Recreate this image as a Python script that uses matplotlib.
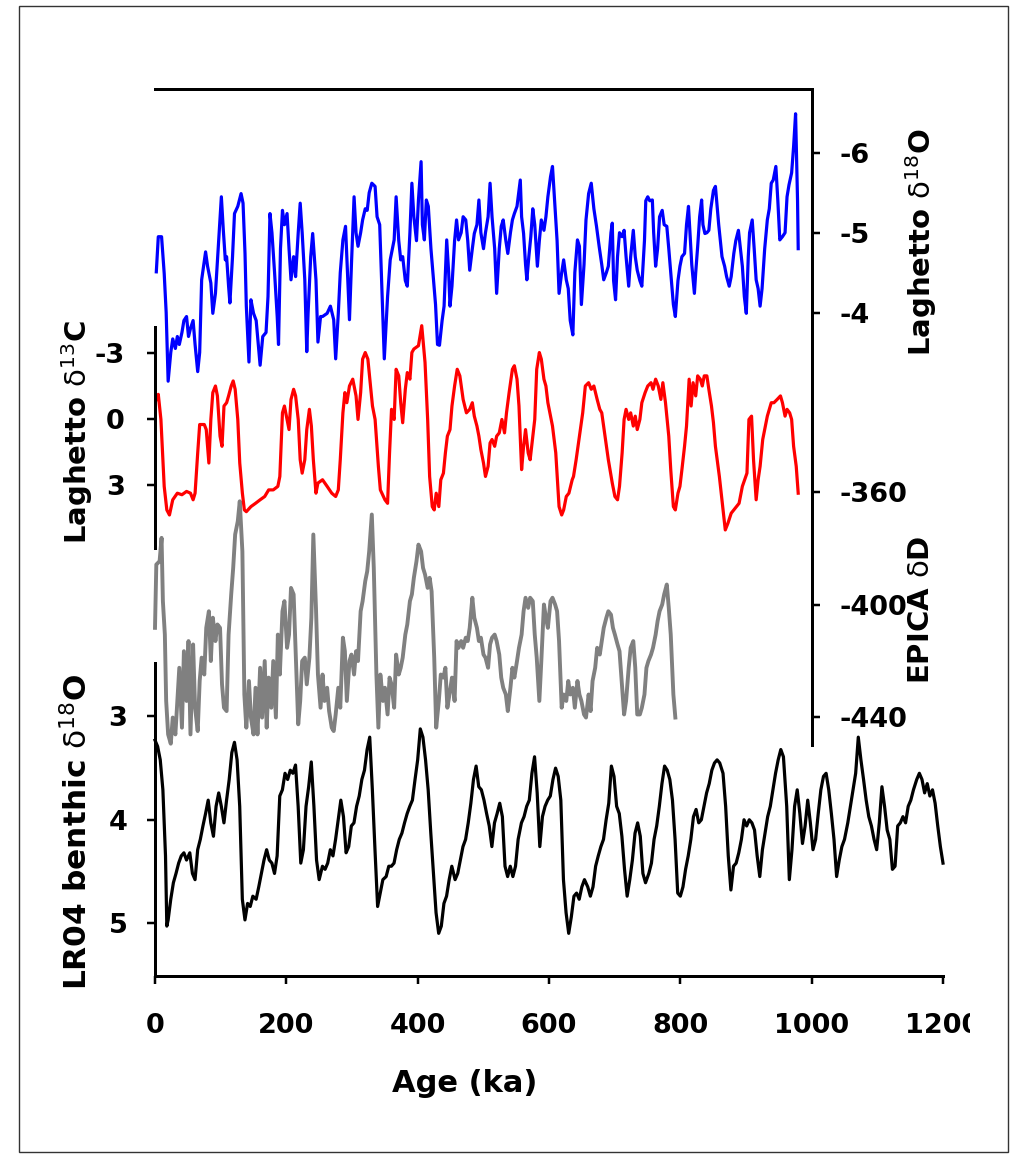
import matplotlib
matplotlib.use('Agg')
import matplotlib.pyplot as plt
from matplotlib.patches import Rectangle
from matplotlib.transforms import Bbox, TransformedBbox

# ---------------- data ----------------
# Laghetto d18O (blue)
o18_age = [2, 5, 10, 14, 17, 20, 24, 27, 31, 34, 37, 41, 44, 48, 51, 54, 58, 61, 65, 68, 71, 77, 80, 85, 88, 92,
           97, 101, 104, 107, 109, 112, 114, 118, 121, 126, 131, 134, 137, 139, 143, 146, 150, 154, 160, 164, 169,
           172, 175, 178, 182, 186, 188, 191, 194, 197, 201, 204, 207, 211, 214, 218, 221, 224, 228, 231, 233, 237,
           240, 245, 248, 252, 255, 262, 267, 272, 275, 279, 282, 286, 290, 293, 296, 299, 303, 306, 309, 313, 316,
           320, 323, 326, 330, 335, 338, 342, 349, 354, 358, 364, 367, 371, 374, 377, 381, 384, 388, 391, 394, 398,
           401, 405, 407, 410, 413, 416, 420, 423, 427, 430, 433, 437, 440, 444, 447, 449, 452, 456, 459, 462, 466,
           469, 473, 476, 479, 483, 486, 490, 493, 496, 500, 503, 507, 510, 513, 517, 520, 524, 527, 530, 534, 537,
           541, 544, 547, 551, 556, 558, 561, 564, 566, 569, 572, 575, 578, 582, 585, 588, 592, 595, 598, 602, 605,
           609, 612, 615, 619, 622, 626, 629, 632, 636, 639, 643, 646, 649, 653, 656, 660, 664, 668, 672, 676, 680,
           683, 687, 690, 694, 696, 698, 701, 704, 707, 711, 714, 717, 721, 724, 728, 731, 734, 738, 741, 745, 747,
           750, 753, 757, 759, 762, 765, 768, 772, 775, 779, 782, 786, 789, 792, 796, 799, 802, 806, 809, 812, 815,
           817, 821, 823, 826, 829, 832, 834, 837, 840, 843, 846, 850, 853, 858, 863, 867, 870, 874, 877, 881, 884,
           888, 891, 894, 897, 900, 903, 905, 909, 912, 915, 918, 921, 924, 928, 932, 935, 938, 941, 945, 948, 951,
           955, 959, 962, 965, 969, 972, 975, 978, 979]
o18_val = [-4.51, -4.95, -4.95, -4.49, -4.0, -3.14, -3.5, -3.67, -3.55, -3.7, -3.6, -3.75, -3.9, -3.95, -3.7, -3.8,
           -3.9, -3.6, -3.26, -3.5, -4.41, -4.76, -4.58, -4.37, -3.99, -4.24, -4.91, -5.45, -5.03, -4.66, -4.70,
           -4.33, -4.12, -4.70, -5.24, -5.33, -5.49, -5.37, -4.74, -4.08, -3.38, -4.16, -3.99, -3.9, -3.34, -3.7,
           -3.75, -4.2, -5.24, -5.0, -4.5, -3.95, -3.6, -4.8, -5.28, -5.1, -5.24, -4.8, -4.41, -4.7, -4.45, -5.0,
           -5.37, -5.0, -4.41, -3.51, -3.99, -4.7, -4.99, -4.41, -3.63, -3.95, -3.95, -3.99, -4.08, -3.91, -3.42,
           -3.99, -4.5, -4.91, -5.08, -4.5, -3.91, -4.6, -5.45, -5.0, -4.83, -5.0, -5.16, -5.3, -5.28, -5.5, -5.62,
           -5.58, -5.2, -5.1, -3.42, -4.2, -4.66, -4.91, -5.45, -4.9, -4.66, -4.7, -4.4, -4.33, -5.0, -5.62, -5.2,
           -4.9, -5.41, -5.89, -5.1, -4.91, -5.41, -5.33, -4.8, -4.5, -4.1, -3.6, -3.59, -3.9, -4.08, -4.91, -4.5,
           -4.08, -4.33, -4.9, -5.16, -4.91, -5.0, -5.2, -5.16, -4.9, -4.53, -4.8, -4.99, -5.1, -5.41, -5.0, -4.8,
           -5.0, -5.2, -5.62, -5.2, -4.8, -4.24, -4.8, -5.08, -5.16, -4.9, -4.74, -5.0, -5.16, -5.24, -5.33, -5.66,
           -5.2, -4.99, -4.6, -4.41, -4.7, -4.95, -5.3, -5.1, -4.58, -4.9, -5.16, -5.03, -5.2, -5.45, -5.7, -5.83,
           -5.3, -4.9, -4.24, -4.5, -4.66, -4.41, -4.3, -3.9, -3.72, -4.5, -4.91, -4.83, -4.1, -4.6, -5.16, -5.49,
           -5.62, -5.3, -5.08, -4.83, -4.6, -4.41, -4.5, -4.58, -5.0, -5.12, -4.4, -4.16, -4.7, -5.0, -4.95, -5.03,
           -4.7, -4.33, -4.7, -5.03, -4.7, -4.53, -4.4, -4.33, -4.9, -5.4, -5.45, -5.4, -5.41, -5.0, -4.58, -4.8,
           -5.2, -5.28, -5.1, -5.08, -4.8, -4.4, -4.1, -3.95, -4.4, -4.58, -4.7, -4.74, -5.1, -5.33, -4.9, -4.6,
           -4.24, -4.5, -4.83, -5.2, -5.41, -5.1, -4.99, -5.0, -5.03, -5.3, -5.53, -5.58, -5.1, -4.7, -4.58, -4.45,
           -4.33, -4.45, -4.74, -4.9, -5.03, -4.8, -4.58, -4.2, -3.99, -4.7, -5.0, -5.16, -4.8, -4.41, -4.3, -4.08,
           -4.3, -4.8, -5.16, -5.3, -5.62, -5.66, -5.83, -5.4, -4.91, -4.95, -5.0, -5.45, -5.6, -5.75, -6.08, -6.49,
           -5.4, -4.8]

# Laghetto d13C (red)
c13_age = [2, 5, 9, 14, 18, 22, 27, 34, 41, 48, 54, 58, 61, 65, 68, 75, 78, 82, 85, 88, 92, 95, 99, 102, 105, 109,
           112, 116, 119, 122, 126, 129, 133, 136, 139, 146, 153, 160, 167, 173, 180, 187, 190, 194, 197, 201, 204,
           207, 211, 214, 218, 221, 224, 228, 231, 235, 238, 241, 245, 248, 255, 262, 269, 275, 279, 282, 286, 289,
           292, 296, 301, 306, 309, 313, 316, 320, 324, 328, 331, 335, 340, 343, 350, 354, 357, 360, 364, 367, 371,
           374, 377, 381, 384, 388, 391, 394, 401, 406, 411, 415, 418, 422, 425, 428, 432, 435, 439, 442, 445, 449,
           452, 456, 460, 464, 469, 474, 479, 483, 486, 490, 493, 496, 500, 503, 507, 510, 513, 517, 520, 524, 528,
           532, 535, 539, 544, 547, 551, 554, 558, 561, 564, 568, 571, 575, 578, 581, 585, 588, 592, 595, 598, 605,
           610, 615, 619, 622, 626, 630, 635, 637, 641, 646, 651, 655, 660, 664, 668, 673, 677, 680, 685, 690, 696,
           700, 704, 707, 711, 714, 717, 721, 724, 728, 731, 734, 738, 741, 746, 750, 755, 758, 762, 766, 770, 773,
           777, 782, 785, 789, 792, 796, 799, 802, 806, 809, 813, 816, 819, 823, 826, 830, 833, 836, 840, 843, 847,
           850, 853, 859, 863, 868, 872, 877, 881, 885, 889, 894, 901, 904, 908, 911, 915, 918, 921, 925, 928, 932,
           935, 938, 942, 947, 952, 955, 959, 962, 966, 969, 972, 976, 979]
c13_val = [-0.91, -1.14, 0, 3.04, 4.11, 4.34, 3.65, 3.35, 3.42, 3.27, 3.35, 3.65, 3.35, 1.52, 0.23, 0.23, 0.46,
           1.98, 0, -1.22, -1.52, -1.07, 0.76, 1.22, -0.61, -0.76, -1.07, -1.52, -1.75, -1.37, 0, 1.98, 3.35, 4.11,
           4.19, 3.96, 3.81, 3.65, 3.5, 3.2, 3.2, 3.04, 2.59, -0.30, -0.61, 0, 0.46, -0.91, -1.37, -1.07, 0, 1.83,
           2.44, 1.83, 0.46, -0.46, 0.30, 1.83, 3.35, 2.89, 2.74, 3.04, 3.35, 3.5, 3.2, 1.83, -0.30, -1.22, -0.76,
           -1.52, -1.83, -1.07, 0, -1.22, -2.74, -3.04, -2.74, -1.52, -0.61, 0, 2.13, 3.2, 3.65, 3.81, 1.52, -0.46,
           0, -2.28, -1.98, -0.76, 0.15, -1.37, -2.13, -1.83, -3.04, -3.2, -3.35, -4.26, -2.59, 0, 2.59, 3.96, 4.11,
           3.35, 3.96, 2.74, 2.44, 1.52, 0.76, 0.46, -0.61, -1.52, -2.28, -1.98, -0.91, -0.30, -0.46, -0.76, -0.15,
           0.30, 0.76, 1.37, 1.98, 2.59, 2.13, 1.07, 0.91, 1.22, 0.76, 0.61, 0, 0.61, -0.30, -1.22, -2.28, -2.44,
           -1.83, -0.61, 2.28, 1.22, 0.46, 1.52, 1.83, 0.76, 0, -2.28, -3.04, -2.74, -1.83, -1.52, -0.76, 0.30, 1.52,
           3.96, 4.34, 4.11, 3.5, 3.35, 2.74, 2.59, 1.83, 0.76, -0.30, -1.52, -1.67, -1.37, -1.52, -0.91, -0.46,
           -0.30, 0.76, 1.83, 2.89, 3.5, 3.65, 3.04, 1.52, 0, -0.46, 0, -0.30, 0.30, -0.15, 0.46, 0, -0.76, -1.22,
           -1.52, -1.67, -1.37, -1.83, -1.52, -0.91, -1.67, -0.76, 0.76, 2.28, 3.96, 4.11, 3.35, 3.04, 2.28, 1.22,
           0.30, -1.83, -0.61, -1.67, -1.07, -1.98, -1.83, -1.52, -1.98, -1.98, -1.37, -0.61, 0.15, 1.22, 2.59, 3.65,
           5.02, 4.72, 4.26, 4.11, 3.96, 3.81, 3.04, 2.44, 0, -0.15, 1.83, 3.65, 2.74, 2.13, 0.91, 0.46, -0.15,
           -0.46, -0.76, -0.76, -0.91, -1.07, -0.76, -0.15, -0.46, -0.30, 0, 1.22, 2.13, 3.35]

# EPICA dD (grey)
dd_age = [0, 2, 7, 10, 12, 15, 17, 20, 24, 27, 31, 34, 37, 41, 44, 48, 51, 54, 58, 61, 65, 68, 71, 75, 78, 82, 85,
          88, 92, 95, 99, 102, 105, 109, 112, 116, 119, 122, 126, 129, 133, 136, 139, 143, 146, 150, 153, 156, 160,
          163, 167, 170, 173, 177, 180, 184, 187, 190, 194, 197, 201, 204, 207, 211, 214, 218, 221, 224, 228, 231,
          235, 238, 241, 245, 248, 252, 255, 258, 262, 265, 269, 272, 275, 279, 282, 286, 289, 292, 296, 299, 303,
          306, 309, 313, 316, 320, 323, 326, 330, 333, 337, 340, 343, 347, 350, 354, 357, 360, 364, 367, 371, 374,
          377, 381, 384, 388, 391, 394, 398, 401, 405, 408, 411, 415, 418, 421, 425, 428, 432, 435, 439, 442, 445,
          449, 452, 456, 459, 462, 466, 469, 473, 476, 479, 483, 486, 490, 493, 496, 500, 503, 507, 510, 513, 517,
          520, 524, 527, 530, 534, 537, 541, 544, 547, 551, 554, 558, 561, 564, 568, 571, 575, 578, 581, 585, 588,
          592, 595, 598, 602, 605, 609, 612, 615, 619, 622, 626, 629, 632, 636, 639, 643, 646, 649, 653, 656, 660,
          663, 666, 670, 673, 677, 680, 683, 687, 690, 694, 697, 700, 704, 707, 711, 714, 717, 721, 724, 728, 731,
          734, 738, 741, 745, 748, 751, 755, 758, 762, 765, 768, 772, 775, 779, 782, 785, 789, 792]
dd_val = [-408.3, -385.8, -384.6, -376.3, -398.8, -410.7, -434.3, -446.2, -449.5, -440.2, -446.2, -434.3, -422.5,
          -443.8, -416.6, -434.3, -413.0, -446.2, -414.2, -436.7, -445.0, -427.2, -418.9, -424.9, -408.3, -402.4,
          -420.1, -404.7, -413.0, -407.1, -408.3, -428.4, -436.7, -437.9, -410.7, -396.4, -387.0, -375.1, -370.4,
          -363.3, -381.1, -432.0, -443.8, -427.2, -440.2, -446.2, -429.6, -446.2, -422.5, -440.2, -420.1, -443.8,
          -426.0, -436.7, -420.1, -440.2, -410.7, -424.9, -402.4, -398.8, -415.4, -410.7, -394.1, -396.4, -416.6,
          -442.6, -434.3, -420.1, -418.9, -428.4, -418.9, -404.7, -375.1, -401.2, -424.9, -436.7, -424.9, -434.3,
          -429.6, -437.9, -443.8, -445.0, -439.1, -429.6, -436.7, -411.8, -416.6, -434.3, -420.1, -417.8, -424.9,
          -416.6, -420.1, -402.4, -398.8, -391.7, -388.2, -381.1, -368.0, -387.0, -424.9, -443.8, -424.9, -434.3,
          -429.6, -439.1, -426.0, -428.4, -436.7, -417.8, -424.9, -422.5, -418.9, -410.7, -407.1, -398.8, -396.4,
          -390.5, -384.6, -378.7, -381.1, -387.0, -389.3, -394.1, -390.5, -395.3, -418.9, -443.8, -434.3, -424.9,
          -426.0, -422.5, -436.7, -430.8, -426.0, -434.3, -413.0, -415.4, -413.0, -415.4, -411.8, -413.0, -408.3,
          -397.6, -404.7, -408.3, -413.0, -411.8, -417.8, -418.9, -422.5, -414.2, -411.8, -410.7, -413.0, -417.8,
          -426.0, -429.6, -432.0, -437.9, -429.6, -422.5, -426.0, -420.1, -415.4, -410.7, -402.4, -397.6, -401.2,
          -397.6, -398.8, -410.7, -418.9, -434.3, -420.1, -400.0, -404.7, -408.3, -398.8, -397.6, -400.0, -402.4,
          -413.0, -436.7, -432.0, -434.3, -427.2, -432.0, -429.6, -436.7, -427.2, -432.0, -434.3, -439.1, -440.2,
          -432.0, -437.9, -427.2, -422.5, -415.4, -417.8, -413.0, -408.3, -404.7, -402.4, -403.6, -408.3, -410.7,
          -414.2, -416.6, -429.6, -439.1, -434.3, -422.5, -415.4, -413.0, -422.5, -439.1, -439.1, -436.7, -432.0,
          -422.5, -420.1, -417.8, -415.4, -410.7, -405.9, -402.4, -400.0, -396.4, -392.9, -401.2, -410.7, -432.0,
          -440.2]

# LR04 benthic d18O (black)
lr_age = [0, 4, 8, 12, 16, 18, 20, 24, 28, 32, 36, 40, 44, 48, 53, 57, 61, 65, 69, 73, 77, 81, 85, 89, 93, 97, 101,
          105, 109, 113, 117, 121, 125, 129, 133, 137, 141, 145, 149, 154, 158, 162, 166, 170, 174, 178, 182, 186,
          190, 194, 198, 202, 206, 210, 214, 218, 222, 226, 230, 234, 238, 242, 246, 250, 255, 259, 263, 267, 271,
          275, 279, 283, 287, 291, 295, 299, 303, 307, 311, 315, 319, 323, 327, 331, 335, 339, 343, 347, 352, 356,
          360, 364, 368, 372, 376, 380, 384, 388, 392, 396, 400, 404, 408, 412, 416, 420, 424, 428, 432, 436, 440,
          444, 448, 452, 457, 461, 465, 469, 473, 477, 481, 485, 489, 493, 497, 501, 505, 509, 513, 517, 521, 525,
          529, 533, 537, 541, 545, 549, 553, 558, 562, 566, 570, 574, 578, 582, 586, 590, 594, 598, 602, 606, 610,
          614, 618, 622, 626, 630, 634, 638, 642, 646, 650, 654, 659, 663, 667, 671, 675, 679, 683, 687, 691, 695,
          699, 703, 707, 711, 715, 719, 723, 727, 731, 735, 739, 743, 747, 752, 756, 760, 764, 768, 772, 776, 780,
          784, 788, 792, 796, 800, 804, 808, 812, 816, 820, 824, 828, 832, 836, 840, 844, 848, 852, 856, 860, 865,
          869, 873, 877, 881, 885, 889, 893, 897, 901, 905, 909, 913, 917, 921, 925, 929, 933, 937, 941, 945, 949,
          953, 957, 962, 966, 970, 974, 978, 982, 986, 990, 994, 998, 1002, 1006, 1010, 1014, 1018, 1022, 1026,
          1030, 1034, 1038, 1042, 1046, 1050, 1055, 1059, 1063, 1067, 1071, 1075, 1079, 1083, 1087, 1091, 1095,
          1099, 1103, 1107, 1111, 1115, 1119, 1123, 1127, 1131, 1135, 1139, 1143, 1147, 1151, 1155, 1160, 1164,
          1168, 1172, 1176, 1180, 1184, 1188, 1192, 1196, 1200]
lr_val = [3.23, 3.29, 3.42, 3.71, 4.35, 5.03, 4.97, 4.77, 4.61, 4.52, 4.42, 4.35, 4.32, 4.39, 4.32, 4.52, 4.58,
          4.29, 4.19, 4.06, 3.94, 3.81, 4.03, 4.16, 3.87, 3.74, 3.87, 4.03, 3.81, 3.61, 3.35, 3.25, 3.42, 3.87,
          4.77, 4.97, 4.81, 4.84, 4.74, 4.77, 4.65, 4.52, 4.39, 4.29, 4.39, 4.42, 4.52, 4.35, 3.77, 3.71, 3.55,
          3.61, 3.52, 3.55, 3.47, 3.87, 4.42, 4.29, 3.87, 3.68, 3.44, 3.87, 4.39, 4.58, 4.45, 4.48, 4.42, 4.29,
          4.35, 4.19, 4.0, 3.81, 3.97, 4.32, 4.26, 4.06, 4.03, 3.87, 3.77, 3.61, 3.52, 3.32, 3.2, 3.71, 4.29, 4.84,
          4.71, 4.58, 4.55, 4.45, 4.45, 4.42, 4.29, 4.19, 4.13, 4.03, 3.94, 3.87, 3.81, 3.61, 3.42, 3.12, 3.2,
          3.42, 3.71, 4.13, 4.52, 4.90, 5.10, 5.03, 4.81, 4.74, 4.58, 4.45, 4.58, 4.52, 4.39, 4.26, 4.19, 4.03,
          3.84, 3.61, 3.48, 3.68, 3.71, 3.81, 3.94, 4.06, 4.26, 4.03, 3.94, 3.84, 3.97, 4.45, 4.55, 4.45, 4.55,
          4.45, 4.19, 4.03, 3.97, 3.87, 3.81, 3.55, 3.39, 3.74, 4.26, 3.97, 3.87, 3.81, 3.77, 3.61, 3.50, 3.58,
          3.81, 4.58, 4.90, 5.10, 4.94, 4.74, 4.71, 4.77, 4.65, 4.58, 4.65, 4.74, 4.65, 4.45, 4.35, 4.26, 4.19,
          4.0, 3.84, 3.48, 3.58, 3.87, 3.94, 4.16, 4.48, 4.74, 4.58, 4.39, 4.13, 4.03, 4.16, 4.52, 4.61, 4.52,
          4.42, 4.19, 4.06, 3.87, 3.65, 3.48, 3.52, 3.61, 3.81, 4.19, 4.71, 4.74, 4.65, 4.48, 4.35, 4.19, 3.97,
          3.90, 4.03, 4.0, 3.87, 3.74, 3.65, 3.52, 3.45, 3.42, 3.45, 3.55, 3.87, 4.35, 4.68, 4.45, 4.42, 4.32,
          4.19, 4.0, 4.06, 4.0, 4.03, 4.10, 4.35, 4.55, 4.29, 4.13, 3.97, 3.87, 3.71, 3.55, 3.42, 3.32, 3.39,
          3.87, 4.58, 4.29, 3.87, 3.71, 3.94, 4.23, 4.06, 3.81, 4.03, 4.29, 4.19, 3.94, 3.71, 3.58, 3.55, 3.71,
          3.94, 4.19, 4.55, 4.39, 4.26, 4.19, 4.03, 3.87, 3.71, 3.55, 3.2, 3.42, 3.61, 3.81, 3.97, 4.06, 4.19,
          4.29, 4.03, 3.68, 3.87, 4.10, 4.19, 4.48, 4.45, 4.06, 4.03, 3.97, 4.03, 3.87, 3.81, 3.71, 3.61, 3.55,
          3.61, 3.74, 3.65, 3.77, 3.71, 3.84, 4.06, 4.26, 4.42]

age_ticks = [0, 200, 400, 600, 800, 1000, 1200]
o18_ticks = [-6, -5, -4]
c13_ticks = [-3, 0, 3]
dd_ticks = [-360, -400, -440]
lr_ticks = [3, 4, 5]

# ---------------- figure ----------------
plt.rcParams['font.family'] = ['DejaVu Sans']
plt.rcParams['mathtext.fontset'] = 'dejavusans'
plt.rcParams['axes.unicode_minus'] = False

W, H = 1011, 1155
fig = plt.figure(figsize=(W / 100, H / 100), dpi=100)
PT = 0.72  # points per pixel
TICK_FS = 19.5


def rect(x0, x1, ytop, ybot):
    return [x0 / W, 1 - ybot / H, (x1 - x0) / W, (ybot - ytop) / H]


def style(ax, show, side, pad):
    ax.patch.set_visible(False)
    for s in ['left', 'right', 'top', 'bottom']:
        ax.spines[s].set_visible(s in show)
        ax.spines[s].set_linewidth(3 * PT)
    ax.tick_params(axis='x', which='both', bottom=False, top=False, labelbottom=False, labeltop=False)
    if side == 'left':
        ax.yaxis.tick_left()
    else:
        ax.yaxis.tick_right()
    ax.tick_params(axis='y', direction='out', length=8 * PT, width=2.5 * PT, labelsize=TICK_FS, pad=pad)
    for lab in ax.get_yticklabels():
        lab.set_fontweight('bold')


ax_lr = fig.add_axes(rect(155, 943, 663, 976))
ax_dd = fig.add_axes(rect(155, 812, 314, 745))
ax_c = fig.add_axes(rect(155, 812, 327, 548))
ax_o = fig.add_axes(rect(155, 812, 89, 386))

# LR04
ax_lr.plot(lr_age, lr_val, color='black', lw=2.3, clip_on=False)
ax_lr.set_xlim(0, 1200)
ax_lr.set_ylim(5.513, 2.482)
ax_lr.set_yticks(lr_ticks)
style(ax_lr, ['left', 'bottom'], 'left', 14)
ax_lr.set_xticks(age_ticks)
ax_lr.tick_params(axis='x', bottom=True, labelbottom=True, direction='out', length=8 * PT,
                  width=2.5 * PT, labelsize=TICK_FS, pad=21)
for lab in ax_lr.get_xticklabels():
    lab.set_fontweight('bold')

# EPICA
ax_dd.plot(dd_age, dd_val, color='#808080', lw=2.8, clip_on=False)
ax_dd.set_xlim(0, 1000)
ax_dd.set_ylim(-449.96, -296.7)
ax_dd.set_yticks(dd_ticks)
style(ax_dd, ['right'], 'right', 14)

# d13C
ax_c.plot(c13_age, c13_val, color='#ff0000', lw=2.3, clip_on=False)
ax_c.set_xlim(0, 1000)
ax_c.set_ylim(5.84, -4.2)
ax_c.set_yticks(c13_ticks)
style(ax_c, ['left'], 'left', 16)

# d18O
ax_o.plot(o18_age, o18_val, color='#0000ff', lw=2.3, clip_on=False)
ax_o.set_xlim(0, 1000)
ax_o.set_ylim(-3.08, -6.80)
ax_o.set_yticks(o18_ticks)
style(ax_o, ['top', 'right'], 'right', 14)

# labels
lab_kw = dict(fontweight='bold', rotation=90, ha='center', va='center')
fig.text(921 / W, 1 - 242 / H, r'Laghetto $\mathrm{\delta}^{18}$O', fontsize=21, **lab_kw)
fig.text(921 / W, 1 - 610 / H, r'EPICA $\mathrm{\delta}$D', fontsize=21, **lab_kw)
fig.text(77 / W, 1 - 432 / H, r'Laghetto $\mathrm{\delta}^{13}$C', fontsize=21, **lab_kw)
fig.text(77 / W, 1 - 832 / H, r'LR04 benthic $\mathrm{\delta}^{18}$O', fontsize=22.5, **lab_kw)
fig.text(465 / W, 1 - 1083 / H, 'Age (ka)', fontsize=22, fontweight='bold', ha='center', va='center')

# outer frame
fig.add_artist(Rectangle((19 / W, 1 - 1152 / H), (1008 - 19) / W, (1152 - 6) / H,
                         transform=fig.transFigure, fill=False, lw=1.0, ec='#333333'))

# the last age label is cut off at its right edge in the original
fig.canvas.draw()
clipbox = TransformedBbox(Bbox([[0, 0], [970 / W, 1]]), fig.transFigure)
last = ax_lr.xaxis.get_major_ticks()[-1].label1
last.set_clip_on(True)
last.set_clip_box(clipbox)

fig.savefig('out.png', dpi=100)
